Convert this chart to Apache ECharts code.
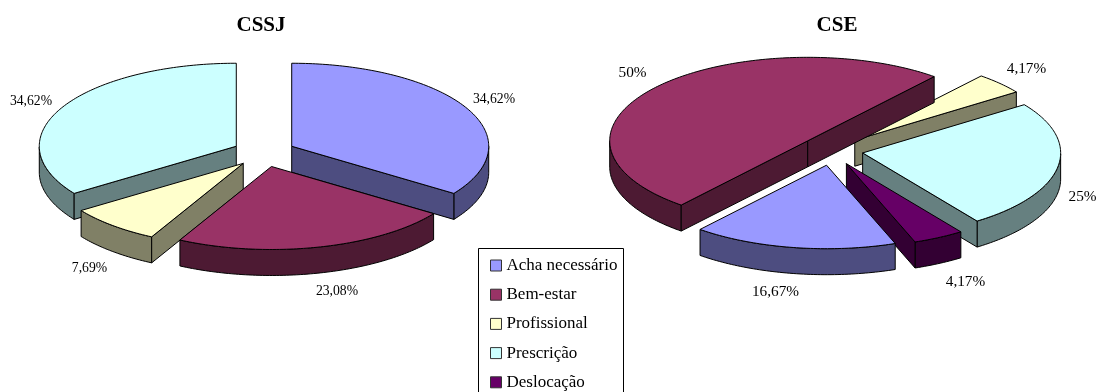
<!DOCTYPE html>
<html>
<head>
<meta charset="utf-8">
<style>html,body{margin:0;padding:0;background:#fff}#chart{width:1097px;height:392px}</style>
<script src="https://cdn.jsdelivr.net/npm/echarts@6/dist/echarts.min.js"></script>
</head>
<body>
<div id="chart"></div>
<script>
// Survey answers, percentages per school group
const categories = ['Acha necessário', 'Bem-estar', 'Profissional', 'Prescrição', 'Deslocação'];
const cssjValues = [34.62, 23.08, 7.69, 34.62, 0];
const cseValues = [16.67, 50, 4.17, 25, 4.17];
const groupNames = ['CSSJ', 'CSE'];

const topColors = ['#9999FF', '#993366', '#FFFFCC', '#CCFFFF', '#660066'];
const wallColors = ['#4D4D80', '#4D1A33', '#808066', '#668080', '#330033'];

// Tilted-disc geometry of the two pies
const depth = 26;
const pies = [
  { values: cssjValues, cx: 264, cy: 152.8, rx: 197, ry: 83, shiftX: 31.3, shiftY: 14.1,
    firstAngle: 0, fontSize: 13.7,
    labelAt: [[494, 99], [337, 291.5], [89.5, 268], [31, 101], null] },
  { values: cseValues, cx: 831.8, cy: 150.4, rx: 198, ry: 83.5, shiftX: 31.3, shiftY: 15,
    firstAngle: 159.7, fontSize: 15.3,
    labelAt: [[775.5, 291.5], [632.5, 73], [1026.5, 69], [1082.5, 197], [965.5, 281.5]] }
];

const FONT = '"Liberation Serif", "Times New Roman", serif';
const rad = d => d * Math.PI / 180;

function sliceSpan(pie, idx) {
  const total = pie.values.reduce((a, b) => a + b, 0);
  const before = pie.values.slice(0, idx).reduce((a, b) => a + b, 0);
  const scale = v => echarts.number.linearMap(v, [0, total], [pie.firstAngle, pie.firstAngle + 360]);
  return [scale(before), scale(before + pie.values[idx])];
}

function formatPercent(v) {
  return String(v).replace('.', ',') + '%';
}

function renderSlice(params, api) {
  const idx = params.seriesIndex;
  const pie = pies[api.value(0)];
  const value = api.value(1);
  if (!value) return null;

  const [a0, a1] = sliceSpan(pie, idx);
  const mid = (a0 + a1) / 2;
  const ox = pie.cx + pie.shiftX * Math.sin(rad(mid));
  const oy = pie.cy - pie.shiftY * Math.cos(rad(mid));
  const rim = t => [ox + pie.rx * Math.sin(rad(t)), oy - pie.ry * Math.cos(rad(t))];
  const drop = p => [p[0], p[1] + depth];

  const arc = [];
  for (let t = a0; t < a1; t += 1) arc.push(t);
  arc.push(a1);

  const base = Math.round(-Math.cos(rad(mid)) * 100) * 10 + 2000;
  const line = { stroke: '#000', lineWidth: 1, lineJoin: 'round' };
  const wall = Object.assign({ fill: wallColors[idx] }, line);
  const children = [];
  const apex = [ox, oy];

  // Curved outer wall: only the near half of the rim faces the viewer
  let run = [];
  const flush = () => {
    if (run.length > 1) {
      const pts = run.concat(run.slice().reverse().map(drop));
      children.push({ type: 'polygon', z2: base, shape: { points: pts }, style: wall });
    }
    run = [];
  };
  arc.forEach(t => {
    if (Math.cos(rad(t)) <= 0.0001) run.push(rim(t)); else flush();
  });
  flush();

  // Flat cut faces, shown when the slice lies behind them
  const cutFace = t => {
    const p = rim(t);
    children.push({
      type: 'polygon', z2: base,
      shape: { points: [apex, p, drop(p), drop(apex)] },
      style: wall
    });
  };
  if (Math.sin(rad(a0)) < -0.0001) cutFace(a0);
  if (Math.sin(rad(a1)) > 0.0001) cutFace(a1);

  // Top face
  children.push({
    type: 'polygon', z2: base + 1,
    shape: { points: [apex].concat(arc.map(rim)) },
    style: Object.assign({ fill: topColors[idx] }, line)
  });

  // Percentage label
  const at = pie.labelAt[idx];
  children.push({
    type: 'text', z2: 9000, x: at[0], y: at[1],
    style: {
      text: formatPercent(value), fill: '#000',
      font: pie.fontSize + 'px ' + FONT, align: 'center', verticalAlign: 'middle'
    }
  });

  return { type: 'group', children };
}

const seriesList = categories.map((name, i) => ({
  type: 'custom',
  name,
  coordinateSystem: 'none',
  silent: true,
  animation: false,
  itemStyle: { color: topColors[i] },
  renderItem: renderSlice,
  data: pies.map((p, n) => [n, p.values[i]])
}));

const titleStyle = { fontFamily: FONT, fontSize: 21, fontWeight: 'bold', color: '#000' };

const chart = echarts.init(document.getElementById('chart'), null, { renderer: 'canvas' });
chart.setOption({
  backgroundColor: '#fff',
  animation: false,
  title: [
    { text: groupNames[0], left: 261, top: 15.5, textAlign: 'center', padding: 0, textStyle: titleStyle },
    { text: groupNames[1], left: 837, top: 15.5, textAlign: 'center', padding: 0, textStyle: titleStyle }
  ],
  legend: {
    orient: 'vertical', left: 490, top: 257, padding: 0,
    itemWidth: 11, itemHeight: 11, itemGap: 12.2, icon: 'rect',
    selectedMode: false,
    itemStyle: { borderColor: '#333', borderWidth: 1 },
    textStyle: { fontFamily: FONT, fontSize: 17, color: '#000', padding: 0 },
    data: categories
  },
  // Legend frame runs past the lower edge of the page
  graphic: [{
    type: 'rect', silent: true, z: 0,
    shape: { x: 478.5, y: 248.5, width: 145, height: 170 },
    style: { fill: '#fff', stroke: '#000', lineWidth: 1 }
  }],
  series: seriesList
});
</script>
</body>
</html>
